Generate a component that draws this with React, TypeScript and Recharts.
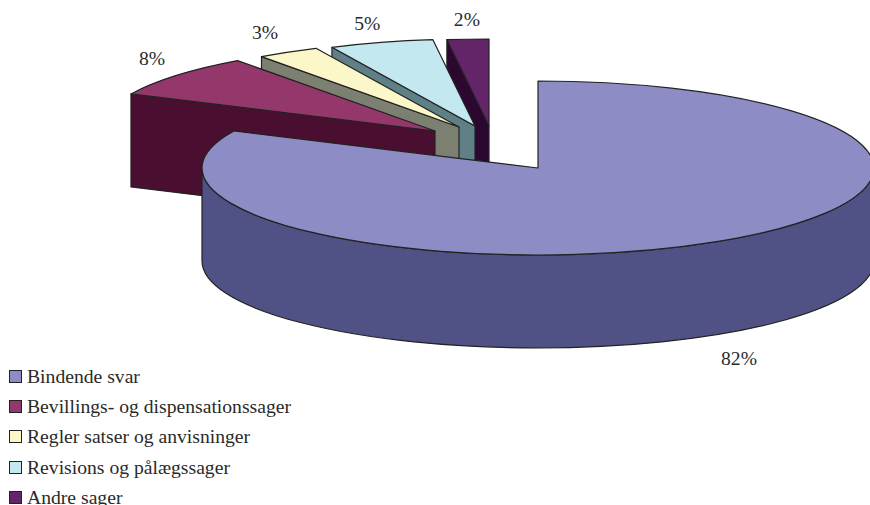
import * as React from 'react';
import { Legend, Pie, PieChart } from 'recharts';

const categories = [
  'Bindende svar',
  'Bevillings- og dispensationssager',
  'Regler satser og anvisninger',
  'Revisions og pålægssager',
  'Andre sager'
];
const shares = [82, 8, 3, 5, 2];
const topColors = ['#8E8CC4', '#94386C', '#FBF7C8', '#C3E8F0', '#632468'];
const wallColors = ['#505286', '#4A0F30', '#7C8070', '#608088', '#2C0830'];

// pulled-out distance of each slice from the pie centre, in px
const explodeX = [0, -103, -79, -63, -49];
const explodeY = [0, -37, -41, -42, -42];
// label position relative to the middle of the slice's top rim
const labelDx = [21, -24, -23, -14, -1];
const labelDy = [123.5, -11, -13, -12.5, -13];

const WIDTH = 870;
const HEIGHT = 505;
const RADIUS = 336;
const SQUASH = 87 / 336;
const DEPTH = 93;
const INK = '#222222';
const TEXT = '#2a2a2a';
const FONT = '"Liberation Serif", "Times New Roman", serif';

// Drawn back to front, so the big slice comes last and covers the others.
// Counter-clockwise from the top, which gives the usual clockwise pie read backwards.
const pieData = categories
  .map((name, i) => ({ name, value: shares[i], fill: topColors[i] }))
  .reverse();

const rad = (deg: number) => (deg * Math.PI) / 180;

function rimPoint(cx: number, cy: number, angle: number) {
  return {
    x: cx + RADIUS * Math.cos(rad(angle)),
    y: cy - RADIUS * SQUASH * Math.sin(rad(angle))
  };
}

function Slice3D(props: any) {
  const { name, startAngle, endAngle, fill } = props;
  const i = categories.indexOf(name);
  const cx = props.cx + explodeX[i];
  const cy = props.cy + explodeY[i];
  const rx = RADIUS;
  const ry = RADIUS * SQUASH;
  const start = rimPoint(cx, cy, startAngle);
  const end = rimPoint(cx, cy, endAngle);
  const large = endAngle - startAngle > 180 ? 1 : 0;

  const top = `M${cx},${cy} L${start.x},${start.y} A${rx},${ry} 0 ${large} 0 ${end.x},${end.y} Z`;

  // side wall along the slice's far edge, only when it turns towards the viewer
  const showEdge = Math.cos(rad(endAngle)) < -0.001;
  const edge = `M${end.x},${end.y} L${cx},${cy} L${cx},${cy + DEPTH} L${end.x},${end.y + DEPTH} Z`;

  // outer wall, only the front half of the rim can be seen
  const from = Math.max(startAngle, 180);
  const to = Math.min(endAngle, 360);
  const a = rimPoint(cx, cy, from);
  const b = rimPoint(cx, cy, to);
  const rim =
    `M${a.x},${a.y} A${rx},${ry} 0 0 0 ${b.x},${b.y} ` +
    `L${b.x},${b.y + DEPTH} A${rx},${ry} 0 0 1 ${a.x},${a.y + DEPTH} Z`;

  const line = { stroke: INK, strokeWidth: 1.2, strokeLinejoin: 'round' as const };
  return (
    <g>
      {showEdge && <path d={edge} fill={wallColors[i]} {...line} />}
      {to > from && <path d={rim} fill={wallColors[i]} {...line} />}
      <path d={top} fill={fill} {...line} />
    </g>
  );
}

function sliceLabel(props: any) {
  const { name, value, midAngle, cx, cy } = props;
  const i = categories.indexOf(name);
  const p = rimPoint(cx + explodeX[i], cy + explodeY[i], midAngle);
  return (
    <text
      key={name}
      x={p.x + labelDx[i]}
      y={p.y + labelDy[i]}
      textAnchor="middle"
      fill={TEXT}
      fontFamily={FONT}
      fontSize={19.6}
    >
      {value}%
    </text>
  );
}

function LegendList({ payload }: any) {
  const items = [...(payload ?? [])].sort(
    (a: any, b: any) => categories.indexOf(a.value) - categories.indexOf(b.value)
  );
  return (
    <div style={{ fontFamily: FONT, fontSize: 19.65, color: TEXT }}>
      {items.map((item: any) => (
        <div
          key={item.value}
          style={{ display: 'flex', alignItems: 'center', height: 30.3, whiteSpace: 'nowrap' }}
        >
          <span
            style={{
              width: 11,
              height: 11,
              marginLeft: 9,
              marginRight: 5,
              border: `1.5px solid ${INK}`,
              background: topColors[categories.indexOf(item.value)]
            }}
          />
          {item.value}
        </div>
      ))}
    </div>
  );
}

export default function App() {
  return (
    <div style={{ position: 'absolute', left: 0, top: 0, width: WIDTH, height: HEIGHT, overflow: 'hidden' }}>
      <PieChart width={WIDTH} height={HEIGHT} margin={{ top: 0, right: 0, bottom: 0, left: 0 }}>
        <Pie
          data={pieData}
          dataKey="value"
          nameKey="name"
          cx={538}
          cy={168}
          innerRadius={0}
          outerRadius={RADIUS}
          startAngle={90}
          endAngle={450}
          stroke="none"
          shape={Slice3D}
          label={sliceLabel}
          labelLine={false}
          isAnimationActive={false}
        />
        <Legend
          content={LegendList}
          wrapperStyle={{ left: 0, top: 361, width: 320, margin: 0 }}
        />
      </PieChart>
    </div>
  );
}
